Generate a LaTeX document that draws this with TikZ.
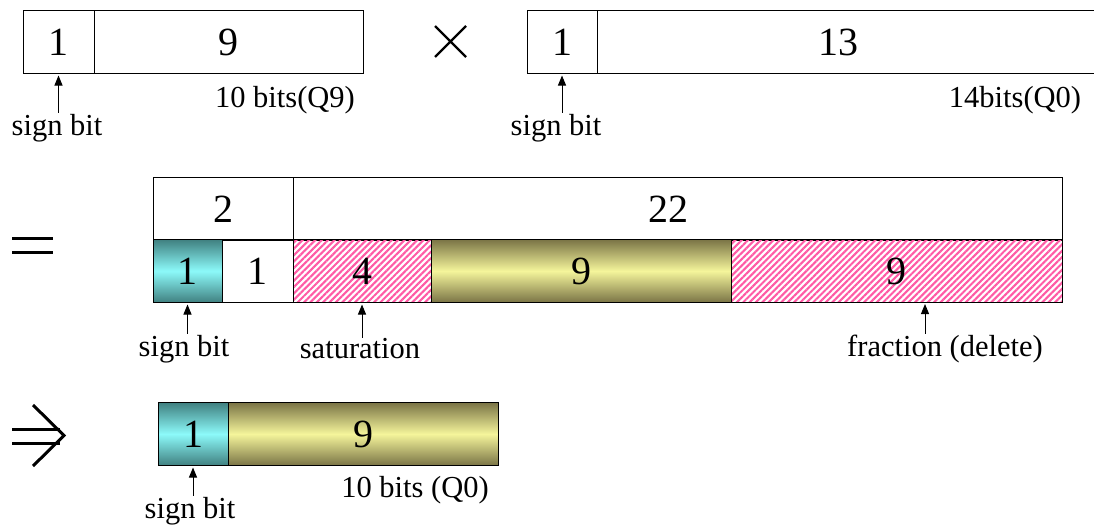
\documentclass[tikz,border=0pt]{standalone}
\usepackage{fontspec}
\setmainfont{Liberation Serif}
\usetikzlibrary{arrows.meta, patterns.meta}

\definecolor{signdark}{RGB}{64,128,128}
\definecolor{signlight}{RGB}{140,250,250}
\definecolor{olivedark}{RGB}{122,116,70}
\definecolor{olivelight}{RGB}{245,245,155}
\definecolor{hatchpink}{RGB}{255,90,165}

\tikzset{
  cell/.style={draw, line width=1pt, inner sep=0pt, outer sep=0pt,
    minimum height=63pt, font=\fontsize{40}{40}\selectfont},
  signcell/.style={cell, top color=signdark, bottom color=signdark, middle color=signlight},
  valcell/.style={cell, top color=olivedark, bottom color=olivedark, middle color=olivelight},
  dropcell/.style={cell, pattern={Lines[angle=45,distance=4.5pt,line width=2.1pt]},
    pattern color=hatchpink},
  lbl/.style={inner sep=1pt, font=\fontsize{30.5}{30.5}\selectfont},
  tip/.style={-{Triangle[length=10pt,width=8pt]}, line width=1pt, shorten >=2pt},
  op/.style={line width=3pt}
}

\begin{document}
\begin{tikzpicture}[x=1pt, y=-1pt]
  \clip (0,0) rectangle (1094,530);

  % first operand, Q9
  \node[cell, minimum width=71pt]  (a1) at (58.5,42) {1};
  \node[cell, minimum width=269pt] (a2) at (228.5,42) {9};
  \node[lbl] (sa) at (57,128) {sign bit};
  \node[lbl] (qa) at (285,100) {10 bits(Q9)};
  \draw[tip] (a1.south |- sa.north) -- (a1.south);

  % times
  \draw[line width=2.2pt] (435,26) -- (466,57) (435,57) -- (466,26);

  % second operand, Q0 (runs off to the right)
  \node[cell, minimum width=70pt]  (b1) at (562,42) {1};
  \node[cell, minimum width=503pt] (b2) at (848.5,42) {13\hspace*{21pt}};
  \node[lbl] (sb) at (556,128) {sign bit};
  \node[lbl] (qb) at (1015,100) {14bits(Q0)};
  \draw[tip] (b1.south |- sb.north) -- (b1.south);

  % equals
  \draw[op] (12,238) -- (53,238) (12,252) -- (53,252);

  % product, 24 bits
  \node[cell, minimum width=140pt] (c1) at (223,209) {2};
  \node[cell, minimum width=769pt] (c2) at (677.5,209) {22\hspace*{18pt}};
  \node[signcell, minimum width=69pt]  (d1) at (187.5,271) {1};
  \node[cell, minimum width=71pt]      (d2) at (257.5,271) {1};
  \node[dropcell, minimum width=138pt] (d3) at (362,271) {4};
  \node[valcell, minimum width=300pt]  (d4) at (581,271) {9};
  \node[dropcell, minimum width=331pt] (d5) at (896.5,271) {9};
  \node[lbl] (sd) at (184,349) {sign bit};
  \node[lbl] (sat) at (360,349) {saturation};
  \node[lbl] (frac) at (945,349) {fraction (delete)};
  \coordinate (fracpt) at (925,302);
  \draw[tip] (d1.south |- sd.north) -- (d1.south);
  \draw[tip] (d3.south |- sat.north) -- (d3.south);
  \draw[tip] (frac.north -| fracpt) -- (fracpt);

  % implies
  \draw[op] (12,429) -- (60,429) (12,443) -- (60,443);
  \draw[op] (33,405) -- (64,435.5) -- (33,466);

  % result, Q0
  \node[signcell, minimum width=70pt] (e1) at (193,434) {1};
  \node[valcell, minimum width=270pt] (e2) at (363,434) {9};
  \node[lbl] (se) at (190,511) {sign bit};
  \node[lbl] (qe) at (415,490) {10 bits (Q0)};
  \draw[tip] (e1.south |- se.north) -- (e1.south);
\end{tikzpicture}
\end{document}
